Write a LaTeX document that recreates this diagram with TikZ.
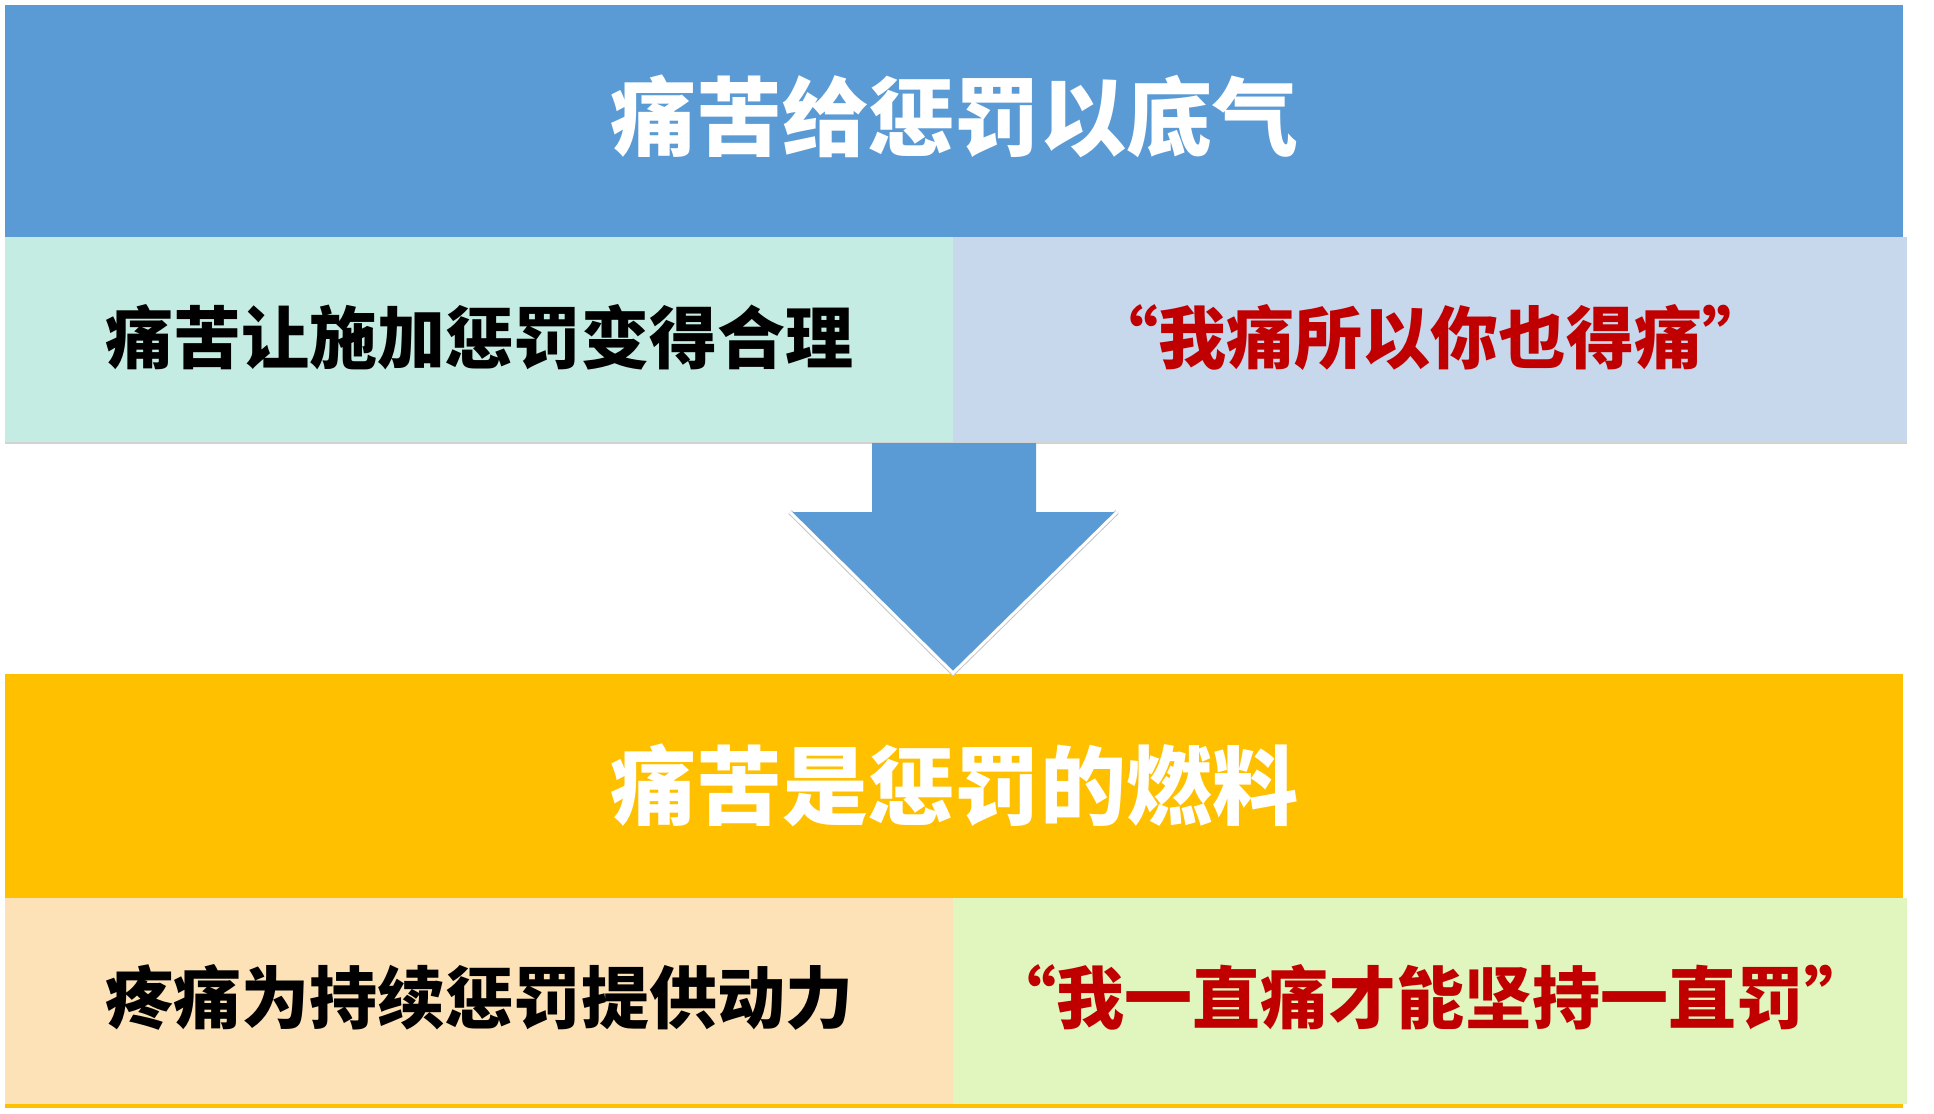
\documentclass[tikz,border=0pt]{standalone}
\usepackage{fontspec}
\newfontfamily\cjk{Noto Sans CJK SC}
\usetikzlibrary{calc,positioning}
\definecolor{titleblue}{HTML}{5B9BD5}
\definecolor{fuelyellow}{HTML}{FFC000}
\definecolor{tealcell}{HTML}{C4ECE2}
\definecolor{skycell}{HTML}{C7D7EC}
\definecolor{peachcell}{HTML}{FDE2B8}
\definecolor{limecell}{HTML}{E1F5BE}
\definecolor{quotered}{HTML}{C00000}
\newcommand{\lift}[2]{\raisebox{#1}{#2}}

\begin{document}
\begin{tikzpicture}
[x=0.5pt, y=-0.5pt,
every node/.style={inner sep=0pt, outer sep=0pt},
title/.style={rectangle, minimum width=949pt, minimum height=116pt,
text=white, font=\cjk\bfseries\fontsize{43pt}{50pt}\selectfont},
cell/.style={rectangle, minimum height=103pt,
font=\cjk\bfseries\fontsize{34pt}{40pt}\selectfont},
leftcell/.style={cell, minimum width=474pt, text=black},
rightcell/.style={cell, minimum width=477pt, text=quotered},
blockarrow/.style={fill=titleblue}]

\useasboundingbox (0,0) rectangle (1934,1114);

% Draw upper part
\node [title, fill=titleblue, anchor=north west] (base) at (5,5) {\lift{9pt}{痛苦给惩罚以底气}};
\node [leftcell, fill=tealcell, below right=0pt and 0pt of base.south west] (justify) {\lift{6pt}{痛苦让施加惩罚变得合理}};
\node [rightcell, fill=skycell, right=0pt of justify] (ihurt) {\lift{6pt}{“我痛所以你也得痛”}};
\draw [gray!35, line width=1pt] (justify.south west) -- (ihurt.south east);

% Draw lower part
\node [title, minimum height=112pt, fill=fuelyellow, below right=115.5pt and 0pt of justify.south west] (fuel) {\lift{5pt}{痛苦是惩罚的燃料}};
\node [leftcell, fill=peachcell, below right=0pt and 0pt of fuel.south west] (drive) {\lift{7pt}{疼痛为持续惩罚提供动力}};
\node [rightcell, fill=limecell, right=0pt of drive] (keep) {\lift{7pt}{“我一直痛才能坚持一直罚”}};
\draw [fuelyellow, line width=2pt] ($(drive.south west)+(0,2)$) -- ($(drive.south west -| fuel.south east)+(0,2)$);

% Draw arrow
\coordinate (tip) at ($(justify.south east |- fuel.north)+(0,-1)$);
\draw [gray!45, line width=2.5pt, line join=miter] ($(tip)+(-163,-161)$) -- (tip) -- ++(164,-161);
\path [blockarrow] ($(justify.south east)+(-81,0)$) -- ++(0,69) -- ++(-82,0) -- (tip)
-- ++(164,-161) -- ++(-81,0) -- ++(0,-69) -- cycle;
\draw [white, line width=1.5pt, line join=miter] ($(tip)+(-163,-161)$) -- (tip) -- ++(164,-161);

\end{tikzpicture}
\end{document}
